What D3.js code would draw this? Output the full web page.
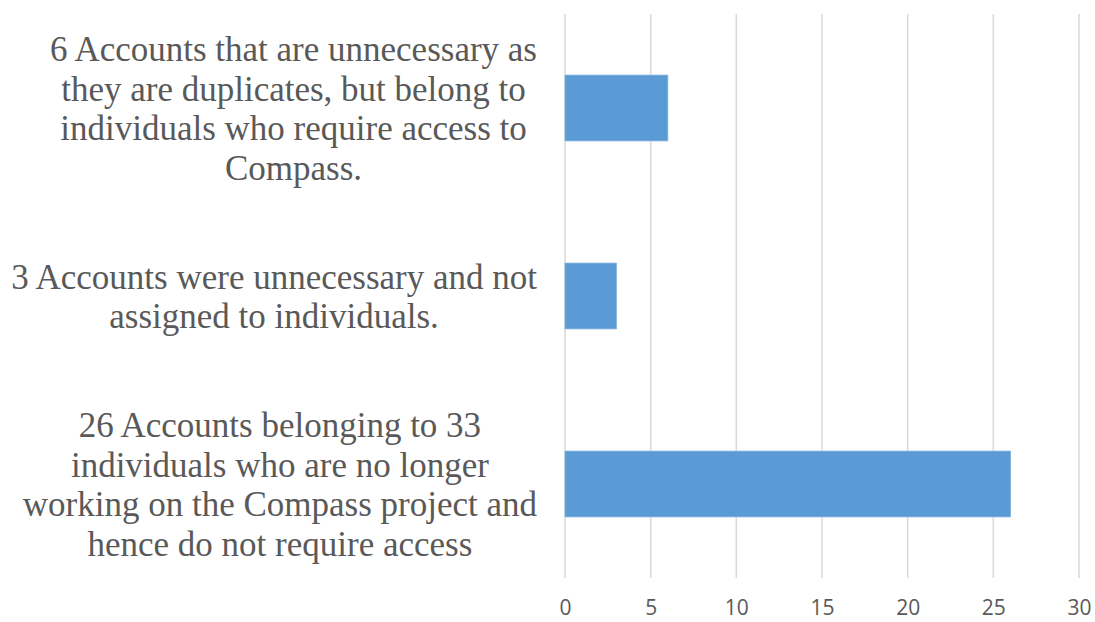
<!DOCTYPE html>
<meta charset="utf-8">
<style>
    body { margin: 0; background: #fff; overflow: hidden; }
    .cat text { font-family: "Liberation Serif", "Times New Roman", serif; font-size: 35px; fill: #595959; }
    .x-axis text { font-family: "Open Sans", "Liberation Sans", sans-serif; font-size: 21px; fill: #595959; }
</style>
<svg id="canvas" width="1095" height="622"></svg>
<script src="https://d3js.org/d3.v7.min.js"></script>
<script>

    // categories top to bottom, each split into its wrapped lines
    var categories = [
        ["6 Accounts that are unnecessary as", "they are duplicates, but belong to", "individuals who require access to", "Compass."],
        ["3 Accounts were unnecessary and not", "assigned to individuals."],
        ["26 Accounts belonging to 33", "individuals who are no longer", "working on the Compass project and", "hence do not require access"]
    ];
    var values = [6, 3, 26];
    var ticks = [0, 5, 10, 15, 20, 25, 30];

    // note: "top" is taken by window.top, so plot edges get their own names
    var svg = d3.select("svg"),
        plotL = 565, plotR = 1079, plotT = 14, plotB = 578;

    var x = d3.scaleLinear().domain([0, 30]).range([plotL, plotR]);
    var y = d3.scaleBand().domain(d3.range(categories.length)).range([plotT, plotB]).paddingInner(0.65).paddingOuter(0.325);

    // gridlines
    svg.append("g")
       .selectAll("line")
       .data(ticks)
       .enter().append("line")
       .attr("x1", function(d) { return x(d); })
       .attr("x2", function(d) { return x(d); })
       .attr("y1", plotT)
       .attr("y2", plotB)
       .attr("stroke", "#d9d9d9")
       .attr("stroke-width", 1.5);

    // tick labels
    var xAxis = svg.append("g")
       .attr("class", "x-axis")
       .attr("transform", "translate(0," + 600 + ")")
       .call(d3.axisBottom(x).tickValues(ticks).tickSize(0).tickPadding(0));
    xAxis.select(".domain").remove();
    xAxis.selectAll("text").attr("dy", "0.71em");

    // bars
    svg.append("g")
       .selectAll("rect")
       .data(values)
       .enter().append("rect")
       .attr("x", x(0))
       .attr("y", function(d, i) { return y(i); })
       .attr("width", function(d) { return x(d) - x(0); })
       .attr("height", y.bandwidth())
       .attr("fill", "#5b9bd5")
       .attr("stroke", "#7fb0de")
       .attr("stroke-width", 0.8);

    // category labels: lines centred in a block that is right-aligned to the axis
    var lineH = 39.5, labelRight = 537;
    categories.forEach(function(lines, i) {
        var cy = y(i) + y.bandwidth() / 2;
        var g = svg.append("g").attr("class", "cat");
        var t = g.selectAll("text")
                 .data(lines)
                 .enter().append("text")
                 .attr("text-anchor", "middle")
                 .attr("dy", "0.35em")
                 .attr("y", function(d, j) { return cy + (j - (lines.length - 1) / 2) * lineH; })
                 .text(function(d) { return d; });
        var maxW = d3.max(t.nodes(), function(n) { return n.getComputedTextLength(); });
        t.attr("x", labelRight - maxW / 2);
    });

</script>
